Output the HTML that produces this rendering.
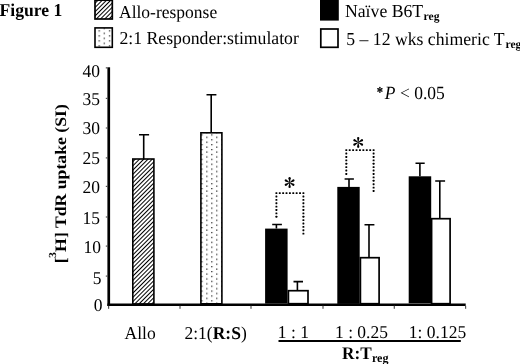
<!DOCTYPE html>
<html><head><meta charset="utf-8"><style>
html,body{margin:0;padding:0;background:#fff;width:520px;height:364px;overflow:hidden}
svg{display:block;will-change:transform}
text{font-family:"Liberation Serif",serif;fill:#000;text-rendering:geometricPrecision}
.b{font-weight:bold}
</style></head><body>
<svg width="520" height="364" viewBox="0 0 520 364">
<defs>
<pattern id="hatch" patternUnits="userSpaceOnUse" width="3" height="3" patternTransform="rotate(45)">
<rect x="0" y="0" width="1.0" height="3" fill="#000"/>
</pattern>
<pattern id="hatchB" patternUnits="userSpaceOnUse" width="3" height="3" patternTransform="translate(1,0) rotate(45)">
<rect x="0" y="0" width="1.0" height="3" fill="#000"/>
</pattern>
<path id="arm" d="M-0.25 0L-1.15 -4.35A1.15 1.15 0 0 1 1.15 -4.35L0.25 0Z"/>
<path id="armS" d="M-0.5 0L-1.35 -4.1A1.35 1.35 0 0 1 1.35 -4.1L0.5 0Z"/>
<g id="astS"><use href="#armS"/><use href="#armS" transform="rotate(60)"/><use href="#armS" transform="rotate(120)"/><use href="#armS" transform="rotate(180)"/><use href="#armS" transform="rotate(240)"/><use href="#armS" transform="rotate(300)"/></g>
<g id="ast"><use href="#arm"/><use href="#arm" transform="rotate(60)"/><use href="#arm" transform="rotate(120)"/><use href="#arm" transform="rotate(180)"/><use href="#arm" transform="rotate(240)"/><use href="#arm" transform="rotate(300)"/></g>
<pattern id="dots" patternUnits="userSpaceOnUse" x="200.3" y="133.36" width="9.93" height="4.88">
<rect x="1" y="1" width="1.2" height="1.2" fill="#111"/>
<rect x="5.965" y="3.44" width="1.2" height="1.2" fill="#111"/>
</pattern>
<pattern id="dotsL" patternUnits="userSpaceOnUse" x="97.6" y="29.3" width="10.3" height="5">
<rect x="1" y="1" width="1.2" height="1.2" fill="#111"/>
<rect x="6.15" y="3.5" width="1.2" height="1.2" fill="#111"/>
</pattern>
</defs>

<!-- Title -->
<text class="b" font-size="17.6" transform="translate(-0.5 15.8) scale(1 1.03)">Figure 1</text>

<!-- Legend -->
<rect x="95" y="0.2" width="17.3" height="18.8" fill="url(#hatch)" stroke="#000" stroke-width="1.7"/>
<rect x="95" y="27.9" width="17.3" height="19.4" fill="url(#dotsL)" stroke="#000" stroke-width="1.6"/>
<rect x="320" y="0" width="18.8" height="20.6" fill="#000"/>
<rect x="320.8" y="29" width="17.2" height="18.3" fill="#fff" stroke="#000" stroke-width="1.7"/>
<text font-size="17.5" transform="translate(119 17.6) scale(1 1.03)">Allo-response</text>
<text font-size="17.7" transform="translate(119.5 44.1) scale(1 1.03)">2:1 Responder:stimulator</text>
<text font-size="17.7" transform="translate(345 16.8) scale(1 1.03)">Naïve B6T<tspan class="b" font-size="11.6" dy="2.9" dx="0.5">reg</tspan></text>
<text font-size="17.7" transform="translate(346.3 44.8) scale(1 1.03)">5 – 12 wks chimeric T<tspan class="b" font-size="11.6" dy="3.1" dx="0.8">reg</tspan></text>

<!-- Y axis label -->
<text class="b" font-size="16" transform="translate(65.8,263.3) rotate(-90) scale(1.106,1)">[<tspan font-size="10.8" dy="-9.6" dx="-0.6">3</tspan><tspan dy="9.8" dx="0.2">H] TdR uptake (SI)</tspan></text>

<!-- Y tick labels -->
<g font-size="17.5" text-anchor="end">
<text transform="translate(100 77) scale(1 1.03)">40</text>
<text transform="translate(100 105) scale(1 1.03)">35</text>
<text transform="translate(100 134) scale(1 1.03)">30</text>
<text transform="translate(100 164) scale(1 1.03)">25</text>
<text transform="translate(100 192.6) scale(1 1.03)">20</text>
<text transform="translate(100 224) scale(1 1.03)">15</text>
<text transform="translate(101 252.7) scale(1 1.03)">10</text>
<text transform="translate(101.5 284) scale(1 1.03)">5</text>
<text transform="translate(102.5 310.8) scale(1 1.03)">0</text>
</g>

<!-- Axes -->
<rect x="107.4" y="67.3" width="2.7" height="238.7" fill="#000"/>
<rect x="107.4" y="303.5" width="358.3" height="2.5" fill="#000"/>
<g fill="#555">
<rect x="105.8" y="67.2" width="1.8" height="1.3"/>
<rect x="105.8" y="97.8" width="1.8" height="1.2"/>
<rect x="105.8" y="127.4" width="1.8" height="1.2"/>
<rect x="105.8" y="157.3" width="1.8" height="1.2"/>
<rect x="105.8" y="185.8" width="1.8" height="1.2"/>
<rect x="105.8" y="216.4" width="1.8" height="1.2"/>
<rect x="105.8" y="245.5" width="1.8" height="1.2"/>
<rect x="105.8" y="275.5" width="1.8" height="1.2"/>
<rect x="108" y="305.8" width="1.2" height="3"/>
<rect x="179.4" y="305.8" width="1.2" height="3"/>
<rect x="250.4" y="305.8" width="1.2" height="3"/>
<rect x="322.4" y="305.8" width="1.2" height="3"/>
<rect x="393.7" y="305.8" width="1.2" height="3"/>
<rect x="465" y="305.8" width="1.2" height="3"/>
</g>

<!-- Bars -->
<rect x="132.8" y="159" width="21.1" height="145" fill="url(#hatchB)" stroke="#000" stroke-width="1.6"/>
<rect x="200.9" y="132.8" width="21" height="171" fill="url(#dots)" stroke="#000" stroke-width="1.6"/>
<rect x="265.1" y="228.6" width="22.5" height="75" fill="#000"/>
<rect x="288.4" y="290.7" width="19.6" height="13" fill="#fff" stroke="#000" stroke-width="1.7"/>
<rect x="337.3" y="186.9" width="22.4" height="117" fill="#000"/>
<rect x="360.4" y="257.7" width="18.7" height="46" fill="#fff" stroke="#000" stroke-width="1.7"/>
<rect x="408.7" y="176.3" width="22.5" height="127" fill="#000"/>
<rect x="431.6" y="218.7" width="18.5" height="85" fill="#fff" stroke="#000" stroke-width="1.7"/>

<!-- Error bars -->
<g stroke="#000" stroke-width="1.6" fill="none">
<path d="M143.7 159V134.8M139 134.8H149.1"/>
<path d="M211.2 132.8V94.8M206.5 94.8H216.4"/>
<path d="M276.4 228.6V224.5M272.2 224.5H281.9"/>
<path d="M297.4 290V281.6M293.5 281.6H303"/>
<path d="M349 186.9V179M344.6 179H353.9"/>
<path d="M369 257V224.8M364.5 224.8H374.4"/>
<path d="M419.9 176.3V163.3M415.5 163.3H424.7"/>
<path d="M439.8 218V181M435.2 181H445.1"/>
</g>

<!-- Significance brackets -->
<g fill="#000"><rect x="275.45" y="192.15" width="1.9" height="1.9" rx="0.4"/><rect x="275.45" y="195.52" width="1.9" height="1.9" rx="0.4"/><rect x="275.45" y="198.90" width="1.9" height="1.9" rx="0.4"/><rect x="275.45" y="202.27" width="1.9" height="1.9" rx="0.4"/><rect x="275.45" y="205.65" width="1.9" height="1.9" rx="0.4"/><rect x="275.45" y="209.02" width="1.9" height="1.9" rx="0.4"/><rect x="275.45" y="212.40" width="1.9" height="1.9" rx="0.4"/><rect x="275.45" y="215.77" width="1.9" height="1.9" rx="0.4"/><rect x="278.82" y="192.15" width="1.9" height="1.9" rx="0.4"/><rect x="282.20" y="192.15" width="1.9" height="1.9" rx="0.4"/><rect x="285.57" y="192.15" width="1.9" height="1.9" rx="0.4"/><rect x="288.95" y="192.15" width="1.9" height="1.9" rx="0.4"/><rect x="292.32" y="192.15" width="1.9" height="1.9" rx="0.4"/><rect x="295.70" y="192.15" width="1.9" height="1.9" rx="0.4"/><rect x="299.07" y="192.15" width="1.9" height="1.9" rx="0.4"/><rect x="302.45" y="192.15" width="1.9" height="1.9" rx="0.4"/><rect x="302.45" y="195.52" width="1.9" height="1.9" rx="0.4"/><rect x="302.45" y="198.90" width="1.9" height="1.9" rx="0.4"/><rect x="302.45" y="202.27" width="1.9" height="1.9" rx="0.4"/><rect x="302.45" y="205.65" width="1.9" height="1.9" rx="0.4"/><rect x="302.45" y="209.02" width="1.9" height="1.9" rx="0.4"/><rect x="302.45" y="212.40" width="1.9" height="1.9" rx="0.4"/><rect x="302.45" y="215.77" width="1.9" height="1.9" rx="0.4"/><rect x="302.45" y="219.15" width="1.9" height="1.9" rx="0.4"/><rect x="302.45" y="222.52" width="1.9" height="1.9" rx="0.4"/><rect x="302.45" y="225.90" width="1.9" height="1.9" rx="0.4"/><rect x="302.45" y="229.27" width="1.9" height="1.9" rx="0.4"/><rect x="302.45" y="232.65" width="1.9" height="1.9" rx="0.4"/><rect x="345.35" y="149.15" width="1.9" height="1.9" rx="0.4"/><rect x="345.35" y="152.56" width="1.9" height="1.9" rx="0.4"/><rect x="345.35" y="155.98" width="1.9" height="1.9" rx="0.4"/><rect x="345.35" y="159.39" width="1.9" height="1.9" rx="0.4"/><rect x="345.35" y="162.80" width="1.9" height="1.9" rx="0.4"/><rect x="345.35" y="166.21" width="1.9" height="1.9" rx="0.4"/><rect x="345.35" y="169.62" width="1.9" height="1.9" rx="0.4"/><rect x="345.35" y="173.04" width="1.9" height="1.9" rx="0.4"/><rect x="348.76" y="149.15" width="1.9" height="1.9" rx="0.4"/><rect x="352.17" y="149.15" width="1.9" height="1.9" rx="0.4"/><rect x="355.59" y="149.15" width="1.9" height="1.9" rx="0.4"/><rect x="359.00" y="149.15" width="1.9" height="1.9" rx="0.4"/><rect x="362.41" y="149.15" width="1.9" height="1.9" rx="0.4"/><rect x="365.83" y="149.15" width="1.9" height="1.9" rx="0.4"/><rect x="369.24" y="149.15" width="1.9" height="1.9" rx="0.4"/><rect x="372.65" y="149.15" width="1.9" height="1.9" rx="0.4"/><rect x="372.65" y="152.56" width="1.9" height="1.9" rx="0.4"/><rect x="372.65" y="155.98" width="1.9" height="1.9" rx="0.4"/><rect x="372.65" y="159.39" width="1.9" height="1.9" rx="0.4"/><rect x="372.65" y="162.80" width="1.9" height="1.9" rx="0.4"/><rect x="372.65" y="166.21" width="1.9" height="1.9" rx="0.4"/><rect x="372.65" y="169.62" width="1.9" height="1.9" rx="0.4"/><rect x="372.65" y="173.04" width="1.9" height="1.9" rx="0.4"/><rect x="372.65" y="176.45" width="1.9" height="1.9" rx="0.4"/><rect x="372.65" y="179.86" width="1.9" height="1.9" rx="0.4"/><rect x="372.65" y="183.28" width="1.9" height="1.9" rx="0.4"/><rect x="372.65" y="186.69" width="1.9" height="1.9" rx="0.4"/><rect x="372.65" y="190.10" width="1.9" height="1.9" rx="0.4"/></g>
<use href="#ast" x="289.6" y="182.6"/>
<use href="#ast" x="358.2" y="142.4"/>

<use href="#astS" transform="translate(379.9 89.9) scale(0.56)"/>
<text font-size="17.5" transform="translate(384.85 98.5) scale(1 1.06)"><tspan font-style="italic">P</tspan> &lt; 0.05</text>

<!-- X labels -->
<g font-size="17.5">
<text transform="translate(124.6 338.5) scale(1 1.03)">Allo</text>
<text transform="translate(184.5 338.9) scale(1 1.03)">2:1(<tspan class="b">R:S</tspan>)</text>
<text transform="translate(277.8 338.3) scale(1 1.03)">1 : 1</text>
<text transform="translate(335 338.3) scale(1 1.03)">1 : 0.25</text>
<text transform="translate(408.8 338) scale(1 1.03)">1: 0.125</text>
</g>
<rect x="278.5" y="340" width="182.3" height="2" fill="#000"/>
<text class="b" font-size="17.2" transform="translate(342 358.5) scale(1 1.03)">R:T<tspan font-size="12.1" dy="3.4" dx="0.3">reg</tspan></text>
</svg>
</body></html>
